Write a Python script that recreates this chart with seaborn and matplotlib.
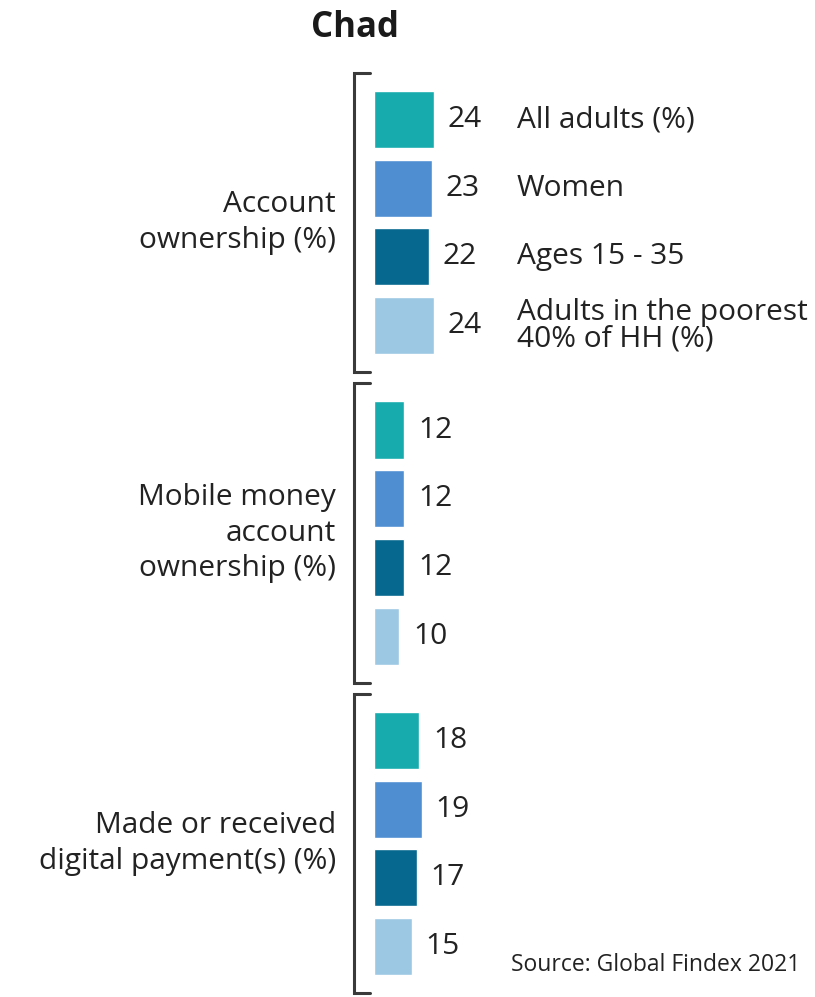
import pandas as pd
import numpy as np
import matplotlib
matplotlib.use('Agg')
import matplotlib.pyplot as plt
import seaborn as sns

# data
segments = ['All adults (%)', 'Women', 'Ages 15 - 35', 'Adults in the poorest\n40% of HH (%)']
groups = ['Account\nownership (%)', 'Mobile money\naccount\nownership (%)',
          'Made or received\ndigital payment(s) (%)']
account = [24, 23, 22, 24]
mobile_money = [12, 12, 12, 10]
digital_pay = [18, 19, 17, 15]
colors = ['#17abad', '#4f8fd1', '#06678f', '#9dc8e3']

sns.set_theme(style='white')
plt.rcParams['font.family'] = ['Open Sans', 'DejaVu Sans']
txt_color = '#222222'
fs = 21.5

W, H = 815, 997
fig = plt.figure(figsize=(W / 100, H / 100), dpi=100)

# layout in pixels
bar_x0 = 374
px_per_unit = 2.5
ax_left = 349
bar_pitch = 68.7
first_centers = [119.5, 430, 740.5]
pad = 0.68

xmin = (ax_left - bar_x0) / px_per_unit
xmax = (W - bar_x0) / px_per_unit

for gi, (gname, vals) in enumerate(zip(groups, [account, mobile_money, digital_pay])):
    df = pd.DataFrame({'segment': segments, 'value': vals})
    top = first_centers[gi] - pad * bar_pitch
    height = (3 + 2 * pad) * bar_pitch
    ax = fig.add_axes([ax_left / W, 1 - (top + height) / H, (W - ax_left) / W, height / H])
    sns.barplot(data=df, x='value', y='segment', hue='segment', palette=colors,
                order=segments, hue_order=segments, orient='h', width=0.83,
                saturation=1, legend=False, ax=ax)
    ax.set_xlim(xmin, xmax)
    ax.set_ylim(3 + pad, -pad)
    ax.axis('off')

    for cont in ax.containers:
        ax.bar_label(cont, padding=10, fontsize=fs, color=txt_color)

    # bracket
    bx = (354 - bar_x0) / px_per_unit
    tx = (370 - bar_x0) / px_per_unit
    ax.plot([tx, bx, bx, tx], [-pad, -pad, 3 + pad, 3 + pad], color='#3a3a3a',
            lw=2.2, solid_joinstyle='miter', clip_on=False)

    # group label
    ax.text((336 - bar_x0) / px_per_unit, 1.5, gname, ha='right', va='center',
            fontsize=fs, color=txt_color, linespacing=1.28)

    if gi == 0:
        for i, seg in enumerate(segments):
            ax.text((517 - bar_x0) / px_per_unit, i, seg, ha='left', va='center',
                    fontsize=fs, color=txt_color, linespacing=0.88)

fig.text(355 / W, 1 - 28 / H, 'Chad', ha='center', va='center', fontsize=25,
         fontweight='bold', color='#1a1a1a')
fig.text(800 / W, 1 - 965 / H, 'Source: Global Findex 2021', ha='right', va='center',
         fontsize=16.5, color=txt_color)

fig.savefig('out.png', dpi=100, facecolor='white')
